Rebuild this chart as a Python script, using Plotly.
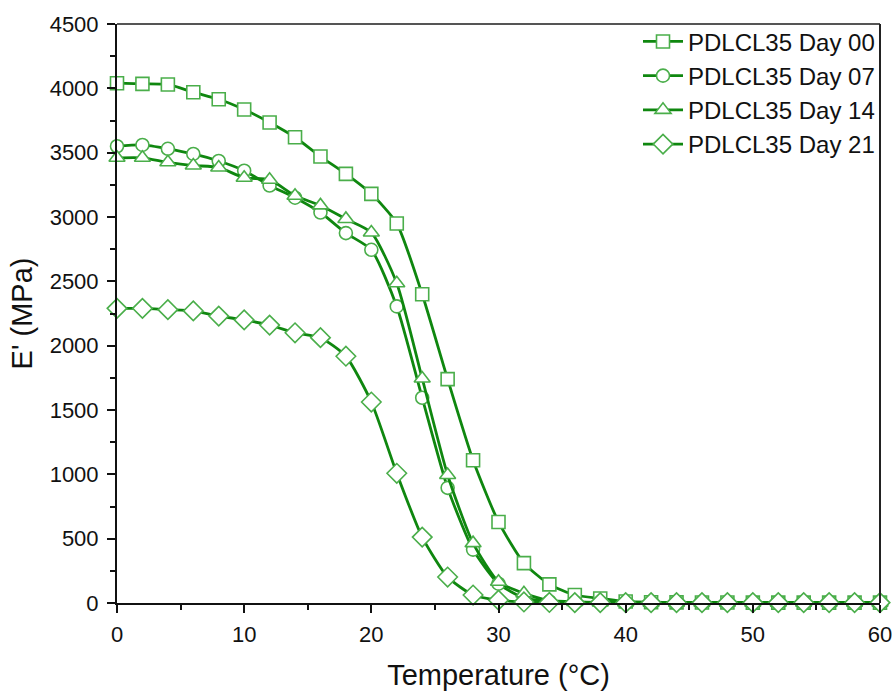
import plotly.graph_objects as go

temperature = [0, 2, 4, 6, 8, 10, 12, 14, 16, 18, 20, 22, 24, 26, 28, 30,
               32, 34, 36, 38, 40, 42, 44, 46, 48, 50, 52, 54, 56, 58, 60]

day00 = [4040, 4035, 4030, 3970, 3915, 3835, 3735, 3620, 3470, 3335, 3180, 2950, 2400, 1740, 1110, 630,
         310, 145, 62, 35, 12, 6, 5, 4, 4, 3, 3, 3, 3, 3, 3]
day07 = [3550, 3560, 3530, 3490, 3435, 3360, 3245, 3150, 3035, 2875, 2745, 2305, 1595, 895, 415, 150,
         40, 12, 6, 4, 3, 3, 3, 3, 3, 3, 3, 3, 3, 3, 3]
day14 = [3460, 3460, 3425, 3400, 3385, 3305, 3290, 3165, 3090, 2985, 2880, 2485, 1745, 995, 465, 165,
         75, 20, 8, 5, 4, 3, 3, 3, 3, 3, 3, 3, 3, 3, 3]
day21 = [2290, 2290, 2280, 2270, 2230, 2200, 2160, 2100, 2062, 1918, 1562, 1008, 512, 202, 62, 22,
         8, 4, 3, 3, 3, 3, 3, 3, 3, 3, 3, 3, 3, 3, 3]

series_names = ["PDLCL35 Day 00", "PDLCL35 Day 07", "PDLCL35 Day 14", "PDLCL35 Day 21"]
series_values = [day00, day07, day14, day21]
symbols = ["square", "circle", "triangle-up", "diamond"]
sizes = [13, 13, 14, 15]

x_ticks = [0, 10, 20, 30, 40, 50, 60]
y_ticks = [0, 500, 1000, 1500, 2000, 2500, 3000, 3500, 4000, 4500]

line_color = "#0f870f"
marker_color = "#4aae4a"

fig = go.Figure()
for name, vals, sym, sz in zip(series_names, series_values, symbols, sizes):
    fig.add_trace(go.Scatter(
        x=temperature, y=vals, name=name, mode="lines+markers",
        line=dict(color=line_color, width=2.8, shape="spline", smoothing=0.6),
        marker=dict(symbol=sym, size=sz, color="white",
                    line=dict(color=marker_color, width=1.6)),
        cliponaxis=False,
    ))

font_family = "Liberation Sans, Arial, sans-serif"
fig.update_layout(
    width=895, height=691,
    margin=dict(l=117, r=15, t=24, b=88, autoexpand=False),
    plot_bgcolor="white", paper_bgcolor="white",
    font=dict(family=font_family, color="#111111"),
    showlegend=True,
    legend=dict(x=1.0, y=1.008, xanchor="right", yanchor="top",
                bgcolor="rgba(255,255,255,0)", borderwidth=0,
                font=dict(size=24, family=font_family, color="#111111"),
                tracegroupgap=0, itemwidth=40),
    xaxis=dict(range=[0, 60], tickvals=x_ticks, ticks="outside", ticklen=8, tickwidth=2,
               tickcolor="#111111", showline=True, linecolor="#111111", linewidth=2,
               mirror=False, showgrid=False, zeroline=False, ticklabelstandoff=3,
               automargin=False,
               tickfont=dict(size=22), title=dict(text="Temperature (°C)", font=dict(size=29), standoff=18),
               minor=dict(dtick=5, ticks="outside", ticklen=5, tickwidth=1.5, tickcolor="#111111")),
    yaxis=dict(range=[0, 4500], tickvals=y_ticks, ticks="outside", ticklen=8, tickwidth=2,
               tickcolor="#111111", showline=True, linecolor="#111111", linewidth=2,
               mirror=False, showgrid=False, zeroline=False, ticklabelstandoff=4,
               automargin=False,
               tickfont=dict(size=22), title=dict(text="E' (MPa)", font=dict(size=29), standoff=8),
               minor=dict(dtick=250, ticks="outside", ticklen=5, tickwidth=1.5, tickcolor="#111111")),
    shapes=[
        dict(type="line", xref="paper", yref="paper", x0=0, x1=1, y0=1, y1=1,
             line=dict(color="#555555", width=2)),
        dict(type="line", xref="paper", yref="paper", x0=1, x1=1, y0=0, y1=1,
             line=dict(color="#222222", width=2)),
    ],
)

fig.write_html("out.html", config={"displayModeBar": False},
               post_script="document.body.style.margin='0';document.body.style.overflow='hidden';")
